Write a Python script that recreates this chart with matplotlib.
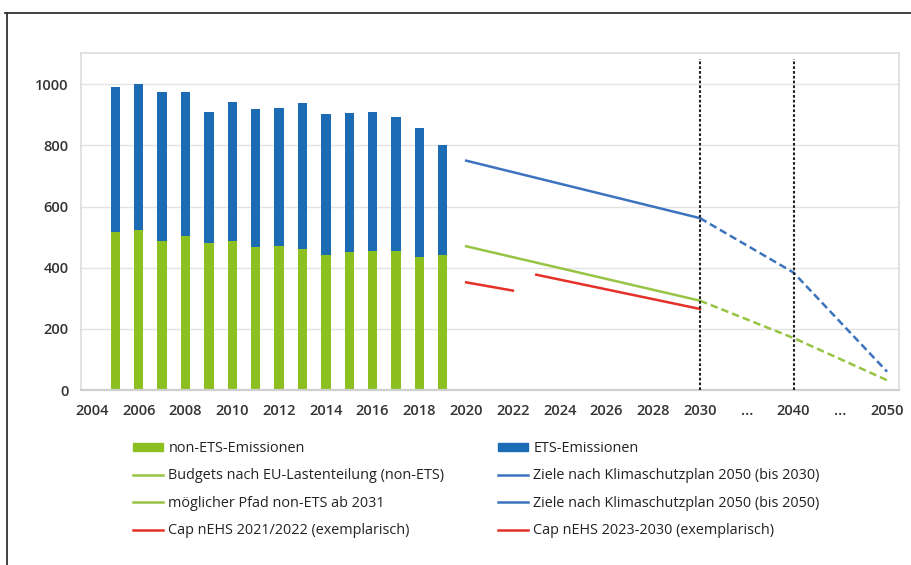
import matplotlib
matplotlib.use("Agg")
import matplotlib.pyplot as plt
from matplotlib.lines import Line2D
from matplotlib.patches import Patch
import numpy as np

plt.rcParams['font.family'] = ['Open Sans', 'DejaVu Sans']

# historic emissions (Mt CO2-eq)
years = np.arange(2005, 2020)
total = np.array([992, 1000, 973, 976, 908, 941, 918, 922, 940, 903, 905, 908, 893, 857, 802])
non_ets = np.array([518, 522, 487, 504, 482, 488, 469, 470, 460, 442, 450, 456, 456, 436, 442])
ets = total - non_ets

# targets / paths
ksp_years = [2020, 2030]
ksp_vals = [750, 562]
ksp50_years = [2030, 2040, 2050]
ksp50_vals = [562, 384, 60]
esr_years = [2020, 2030]
esr_vals = [470, 292]
path_years = [2030, 2040, 2050]
path_vals = [292, 170, 32]
cap1_years = [2020, 2022]
cap1_vals = [352, 325]
cap2_years = [2023, 2030]
cap2_vals = [377, 265]
marker_years = [2030, 2040]

tick_years = list(range(2004, 2031, 2)) + [None, 2040, None, 2050]


def pos(y):
    # axis is compressed after 2030: 10 years take two tick steps
    y = np.asarray(y, dtype=float)
    return np.where(y <= 2030, y, 2030 + (y - 2030) * 0.4)


green_bar = '#8CC021'
blue_bar = '#1C6CB5'
green_line = '#96C443'
blue_line = '#3C73BE'
red_line = '#E53027'

fig = plt.figure(figsize=(9.12, 5.65), dpi=100)
ax = fig.add_axes([81 / 912, 1 - 390 / 565, 818 / 912, 337 / 565])

ax.bar(years, non_ets, width=0.4, color=green_bar, zorder=2)
ax.bar(years, ets, width=0.4, bottom=non_ets, color=blue_bar, zorder=2)

lw = 1.8
ax.plot(pos(ksp_years), ksp_vals, color=blue_line, lw=lw, zorder=3)
ax.plot(pos(ksp50_years), ksp50_vals, color=blue_line, lw=lw, ls=(0, (3, 1.6)), zorder=3)
ax.plot(pos(esr_years), esr_vals, color=green_line, lw=lw, zorder=3)
ax.plot(pos(path_years), path_vals, color=green_line, lw=lw, ls=(0, (3, 1.6)), zorder=3)
ax.plot(pos(cap1_years), cap1_vals, color=red_line, lw=lw, zorder=3)
ax.plot(pos(cap2_years), cap2_vals, color=red_line, lw=lw, zorder=3)

ax.vlines(pos(marker_years), 0, 1083, colors='#222222', lw=1.5,
          linestyles=(0, (1.3, 1.0)), zorder=4)

ax.set_xlim(2003.53, 2038.51)
ax.set_ylim(0, 1102)
ax.set_yticks(range(0, 1001, 200))
ax.yaxis.grid(True, color='#E3E3E3', lw=1)
ax.set_axisbelow(True)

xt = [2004 + 2 * i for i in range(len(tick_years))]
ax.set_xticks(xt)
ax.set_xticklabels([str(t) if t else '...' for t in tick_years])
ax.tick_params(axis='both', length=0, labelsize=10.5, labelcolor='#333333')
ax.tick_params(axis='x', pad=10)
ax.tick_params(axis='y', pad=9)
for lab in ax.get_xticklabels() + ax.get_yticklabels():
    lab.set_fontweight('semibold')

for s in ax.spines.values():
    s.set_color('#DDDDDD')
    s.set_linewidth(1.2)
ax.spines['bottom'].set_color('#CFCFCF')
ax.spines['bottom'].set_linewidth(1.6)

h1 = [Patch(color=green_bar), Line2D([], [], color=green_line, lw=lw),
      Line2D([], [], color=green_line, lw=lw), Line2D([], [], color=red_line, lw=lw)]
l1 = ['non-ETS-Emissionen', 'Budgets nach EU-Lastenteilung (non-ETS)',
      'möglicher Pfad non-ETS ab 2031', 'Cap nEHS 2021/2022 (exemplarisch)']
h2 = [Patch(color=blue_bar), Line2D([], [], color=blue_line, lw=lw),
      Line2D([], [], color=blue_line, lw=lw), Line2D([], [], color=red_line, lw=lw)]
l2 = ['ETS-Emissionen', 'Ziele nach Klimaschutzplan 2050 (bis 2030)',
      'Ziele nach Klimaschutzplan 2050 (bis 2050)', 'Cap nEHS 2023-2030 (exemplarisch)']

kw = dict(loc='upper left', frameon=False, fontsize=10.4, handlelength=2.1,
          handleheight=0.42, handletextpad=0.35, labelspacing=0.86, borderpad=0,
          borderaxespad=0, labelcolor='#222222')
fig.legend(h1, l1, bbox_to_anchor=(133 / 912, 1 - 441 / 565), **kw)
fig.legend(h2, l2, bbox_to_anchor=(498 / 912, 1 - 441 / 565), **kw)

# outer frame (top and left edge)
fig.add_artist(Line2D([5 / 912, 1], [1 - 13 / 565] * 2, color='#333333', lw=1.3))
fig.add_artist(Line2D([7 / 912] * 2, [0, 1 - 13 / 565], color='#333333', lw=1.3))

fig.savefig('out.png', dpi=100)
